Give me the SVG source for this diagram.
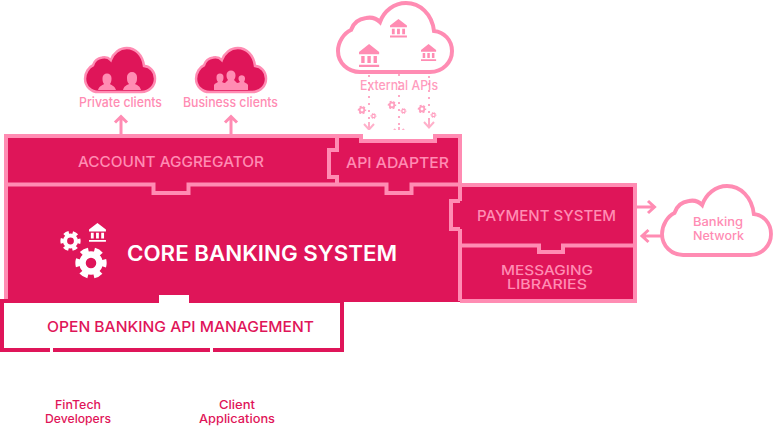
<svg xmlns="http://www.w3.org/2000/svg" width="774" height="440" viewBox="0 0 774 440">
<style>
text{font-family:"Inter","Noto Sans","Liberation Sans",sans-serif;font-weight:500}
.c{font-size:13px;fill:#ff8cb3}
.c2{font-size:12px;fill:#ff8cb3}
.box{font-size:15px;fill:#ff8cb3}
.box2{font-size:13.500px;fill:#ff8cb3}
.dev{font-size:12px;fill:#df1559}
.line{fill:none;stroke:#ff8cb3;stroke-width:4}
.arrow{fill:none;stroke:#ff8cb3;stroke-width:3}
.dot{fill:none;stroke:#ff8cb3;stroke-width:2;stroke-dasharray:2 5;opacity:.75}
.soft{fill:none;stroke:#ffb0ca;stroke-width:2}
.cl{vector-effect:non-scaling-stroke;stroke:#ff8cb3;stroke-width:4}
</style>
<defs>
<path id="cloud" d="M360 72H430C443 72 452 62 452 51C452 40 444 32 434 31C432 14 420 3 406 3C394 3 384 11 380 22C376 18 371 17 366 18C358 19 353 24 351 30C344 33 338 42 338 51C338 63 348 72 360 72Z"/>
<path id="bank" d="M0 7L9 0L18 7V9H0ZM2 10.500H5V16.500H2ZM7.500 10.500H10.500V16.500H7.500ZM13 10.500H16V16.500H13ZM0 18H18V20H0Z"/>
<g id="gear" fill="none" stroke="currentColor">
<circle r=".55" stroke-width=".42"/>
<circle r=".85" stroke-width=".32" stroke-dasharray=".5 .39" stroke-dashoffset=".25"/>
</g>
</defs>

<g id="connectors">
<path class="arrow" d="M121 134V117M115 122.500L121 116.500L127 122.500"/>
<path class="arrow" d="M231 134V117M225 122.500L231 116.500L237 122.500"/>
<path class="arrow" d="M637 207H654M648 201L654.500 207L648 213"/>
<path class="arrow" d="M661 236H642M648.500 230L642 236L648.500 242"/>
<path class="dot" d="M369 68V124"/>
<path class="dot" d="M399 39V128"/>
<path class="dot" d="M429 62V122"/>
<path class="soft" d="M369 122V129M364 124L369 129.500L374 124"/>
<path class="soft" d="M399 127V134M394 129L399 134.500L404 129"/>
<path class="soft" d="M429 120V127M424 122L429 127.500L434 122"/>
</g>

<g id="private-clients">
<use href="#cloud" fill="#df1559" class="cl" transform="translate(-122.500 46.100) scale(.614 .638)"/>
<path fill="#ff8cb3" d="M98 90C99 86 103 85 104 84C102.500 82 102.500 80 102.500 78A4.500 4.500 0 0 1 111.500 78C111.500 80 111.500 82 110 84C111 85 115 86 116 90Z"/>
<path fill="#ff8cb3" d="M123 90C124 86 127 85 129 84C127 82 127 80 127 77A5 5 0 0 1 137 77C137 80 137 82 135 84C137 85 140 86 141 90Z"/>
<text class="c" x="79" y="107" textLength="83" lengthAdjust="spacingAndGlyphs">Private clients</text>
</g>
<g id="business-clients">
<use href="#cloud" fill="#df1559" class="cl" transform="translate(-11.500 46.100) scale(.614 .638)"/>
<path fill="#ff8cb3" d="M214 90V85C215 83 217 83 218 82C216.500 80 216.500 79 216.500 77A3.500 3.500 0 0 1 223.500 77C223.500 79 223.500 80 222 82C223 82.500 224 83 225 83C226 82 227 81 228 80C226.500 78 226.500 76 226.500 75A4.500 4.500 0 0 1 235.500 75C235.500 76 235.500 78 234 80C235 81 236 82 237 83C238 83 239 82.500 240 82C238.500 80 238.500 79 238.500 78A3.300 3.300 0 0 1 245 78C245 79.500 245 80 244 82C245 83 247 83 248 85V90Z"/>
<text class="c" x="183" y="107" textLength="95" lengthAdjust="spacingAndGlyphs">Business clients</text>
</g>
<g id="external-apis">
<use href="#cloud" fill="#fff" class="cl"/>
<use href="#bank" fill="#ff8cb3" transform="translate(359 44) scale(1.120 1.150)"/>
<use href="#bank" fill="#ff8cb3" transform="translate(390 19) scale(.94 .92)"/>
<use href="#bank" fill="#ff8cb3" transform="translate(421 44) scale(.84 .85)"/>
<text class="c" x="360" y="90" textLength="78" lengthAdjust="spacingAndGlyphs" opacity=".85">External APIs</text>
<g style="color:#ffa0c0">
<use href="#gear" transform="translate(362 110) scale(4.200)"/>
<use href="#gear" transform="translate(373.500 116) scale(3)"/>
<use href="#gear" transform="translate(392 105) scale(4.200)"/>
<use href="#gear" transform="translate(403.500 111) scale(3)"/>
<use href="#gear" transform="translate(422 109) scale(4.200)"/>
<use href="#gear" transform="translate(433.500 115) scale(3)"/>
</g>
</g>

<g id="core-banking-system">
<rect x="6" y="136" width="454" height="166" fill="#df1559"/>
<rect x="460" y="185" width="175" height="116" fill="#df1559"/>
<rect x="361" y="130" width="74" height="11" fill="#fff"/>
<path class="line" d="M6 302V136H361V141H435V136H460V201M460 229V301"/>
<use href="#gear" style="color:#fff" transform="translate(91 263) scale(15.500)"/>
<use href="#gear" style="color:#fff" transform="translate(70.500 241) scale(10)"/>
<use href="#bank" fill="#fff" transform="translate(89 223) scale(.94)"/>
<text x="127" y="261" font-size="21" fill="#fff" style="font-weight:600" textLength="270" lengthAdjust="spacingAndGlyphs">CORE BANKING SYSTEM</text>
</g>
<g id="account-aggregator">
<path class="line" d="M6 184.500H153.500V193H188.500V184.500H386.500V193H411.500V184.500H460"/>
<text class="box" x="78" y="167" textLength="186" lengthAdjust="spacingAndGlyphs">ACCOUNT AGGREGATOR</text>
</g>
<g id="api-adapter">
<path class="line" d="M337 136V150H329V177H337V184.500"/>
<text class="box" x="346" y="168" textLength="103" lengthAdjust="spacingAndGlyphs">API ADAPTER</text>
</g>
<g id="payment-system">
<path class="line" d="M460 185H635V301H460M460 201H451V229H460"/>
<text class="box" x="477" y="221" textLength="139" lengthAdjust="spacingAndGlyphs">PAYMENT SYSTEM</text>
</g>
<g id="messaging-libraries">
<path class="line" d="M460 245.500H539V252H563V245.500H635"/>
<text class="box2" x="501" y="275" textLength="92" lengthAdjust="spacingAndGlyphs">MESSAGING</text>
<text class="box2" x="507" y="289" textLength="80" lengthAdjust="spacingAndGlyphs">LIBRARIES</text>
</g>
<g id="open-banking-api-management">
<rect x="2" y="301" width="340" height="49" fill="#fff" stroke="#df1559" stroke-width="4"/>
<rect x="159" y="295" width="30" height="9" fill="#fff"/>
<rect x="50" y="347" width="3" height="6" fill="#fff"/>
<rect x="210" y="347" width="3" height="6" fill="#fff"/>
<text x="47" y="332" font-size="15" fill="#df1559" textLength="267" lengthAdjust="spacingAndGlyphs">OPEN BANKING API MANAGEMENT</text>
</g>
<g id="banking-network">
<use href="#cloud" fill="#fff" class="cl" transform="translate(338.900 183) scale(.956 1)"/>
<text class="c2" x="693" y="226" textLength="50" lengthAdjust="spacingAndGlyphs">Banking</text>
<text class="c2" x="693" y="240" textLength="51" lengthAdjust="spacingAndGlyphs">Network</text>
</g>
<g id="fintech-developers">
<text class="dev" x="55" y="409" textLength="46" lengthAdjust="spacingAndGlyphs">FinTech</text>
<text class="dev" x="45" y="423" textLength="66" lengthAdjust="spacingAndGlyphs">Developers</text>
</g>
<g id="client-applications">
<text class="dev" x="219" y="409" textLength="36" lengthAdjust="spacingAndGlyphs">Client</text>
<text class="dev" x="199" y="423" textLength="76" lengthAdjust="spacingAndGlyphs">Applications</text>
</g>
</svg>
